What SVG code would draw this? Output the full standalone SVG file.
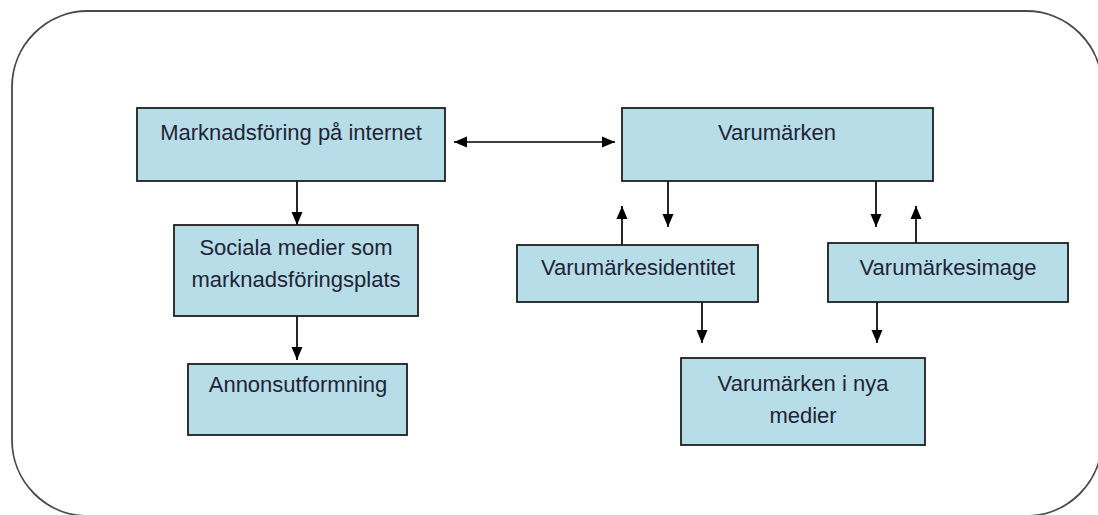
<svg xmlns="http://www.w3.org/2000/svg" width="1098" height="515" viewBox="0 0 1098 515">
<defs>
<style>
.frame{fill:#ffffff;stroke:#4a4a4a;stroke-width:1.8}
.box{fill:#b7dde8;stroke:#1f1f1f;stroke-width:1.8}
.lbl{font-family:"Liberation Sans",Arial,sans-serif;font-size:22px;fill:#1e2436;text-anchor:middle}
.con{stroke:#000;stroke-width:1.7;fill:none}
.arr{marker-end:url(#ah)}
.dbl{marker-end:url(#ah);marker-start:url(#ahs)}
</style>
<marker id="ah" markerUnits="userSpaceOnUse" markerWidth="13" markerHeight="13" viewBox="0 0 13 13" refX="13" refY="6.5" orient="auto">
<path d="M0,1 L13,6.5 L0,12 z" fill="#000"/>
</marker>
<marker id="ahs" markerUnits="userSpaceOnUse" markerWidth="13" markerHeight="13" viewBox="0 0 13 13" refX="13" refY="6.5" orient="auto-start-reverse">
<path d="M0,1 L13,6.5 L0,12 z" fill="#000"/>
</marker>
</defs>
<rect class="frame" x="12" y="11" width="1090" height="505" rx="76" ry="76"/>
<g id="connectors">
<line class="con dbl" x1="454" y1="142" x2="615" y2="142"/>
<line class="con arr" x1="297" y1="181" x2="297" y2="225"/>
<line class="con arr" x1="297" y1="316" x2="297" y2="360"/>
<line class="con arr" x1="668" y1="181" x2="668" y2="227"/>
<line class="con arr" x1="622" y1="245" x2="622" y2="206"/>
<line class="con arr" x1="876" y1="181" x2="876" y2="227"/>
<line class="con arr" x1="916" y1="243" x2="916" y2="206"/>
<line class="con arr" x1="702" y1="302" x2="702" y2="343"/>
<line class="con arr" x1="877" y1="302" x2="877" y2="343"/>
</g>
<g id="n-marknadsforing">
<rect class="box" x="137" y="108" width="308" height="73"/>
<text class="lbl" x="291" y="140">Marknadsföring på internet</text>
</g>
<g id="n-varumarken">
<rect class="box" x="622" y="108" width="311" height="73"/>
<text class="lbl" x="777" y="140">Varumärken</text>
</g>
<g id="n-sociala">
<rect class="box" x="174" y="225" width="244" height="91"/>
<text class="lbl" x="296" y="255">Sociala medier som</text>
<text class="lbl" x="296" y="287">marknadsföringsplats</text>
</g>
<g id="n-identitet">
<rect class="box" x="517" y="245" width="241" height="57"/>
<text class="lbl" x="638" y="275">Varumärkesidentitet</text>
</g>
<g id="n-image">
<rect class="box" x="828" y="243" width="240" height="59"/>
<text class="lbl" x="948" y="275">Varumärkesimage</text>
</g>
<g id="n-annons">
<rect class="box" x="188" y="364" width="219" height="71"/>
<text class="lbl" x="298" y="392">Annonsutformning</text>
</g>
<g id="n-nyamedier">
<rect class="box" x="681" y="358" width="244" height="87"/>
<text class="lbl" x="803" y="391">Varumärken i nya</text>
<text class="lbl" x="803" y="423">medier</text>
</g>
</svg>
